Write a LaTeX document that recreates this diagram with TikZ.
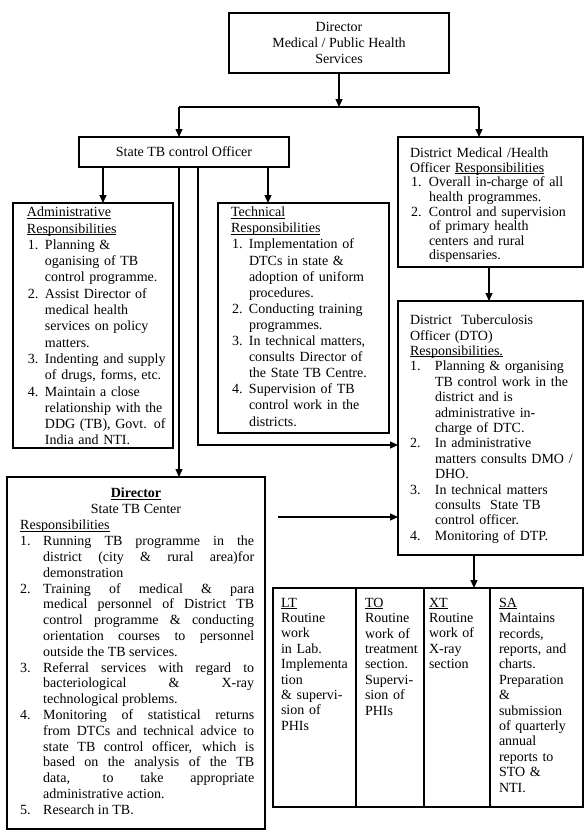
\documentclass[tikz,border=0pt]{standalone}
\usepackage{fontspec}
\setmainfont{Liberation Serif}
\usetikzlibrary{arrows.meta}
\newcommand\myul[1]{\setbox0\hbox{#1}\rlap{\rule[-1.6pt]{\wd0}{0.7pt}}\box0}
\newcommand\li[3]{\par\hangindent=#2\hangafter=1\noindent\hbox to #2{\hspace*{#1}#3\hfil}\ignorespaces}
\tikzset{
  bx/.style={draw, line width=1.2pt, inner sep=0pt, outer sep=0pt, anchor=north west},
  tx/.style={anchor=north west, inner sep=0pt, outer sep=0pt, text width=#1, align=left},
  fs/.style={font=\fontsize{14}{#1}\selectfont},
  arr/.style={line width=1.2pt, -{Triangle[length=8pt,width=7pt]}},
  ln/.style={line width=1.2pt},
}
\begin{document}
\begin{tikzpicture}[x=1pt,y=-1pt]
\useasboundingbox (0,0) rectangle (588,836);
% boxes
\node[bx, minimum width=220pt, minimum height=60pt] (top) at (229,13) {};
\node[bx, minimum width=210pt, minimum height=30pt] (stb) at (79,137) {};
\node[bx, minimum width=185pt, minimum height=130pt] (dmo) at (398,137) {};
\node[bx, minimum width=160pt, minimum height=245pt] (adm) at (13,203) {};
\node[bx, minimum width=171pt, minimum height=230pt] (tec) at (218,203) {};
\node[bx, minimum width=185pt, minimum height=254pt] (dto) at (398,301) {};
\node[bx, minimum width=258pt, minimum height=352pt] (dir) at (7,477) {};
\node[bx, minimum width=83pt, minimum height=219pt] (lt) at (273,588) {};
\node[bx, minimum width=68pt, minimum height=219pt] (to) at (356,588) {};
\node[bx, minimum width=66pt, minimum height=219pt] (xt) at (424,588) {};
\node[bx, minimum width=93pt, minimum height=219pt] (sa) at (490,588) {};
% texts
\node[fs=16.3, align=center, inner sep=0pt] (topT) at (top.center) {Director\\Medical / Public Health\\Services};
\node[fs=16, inner sep=0pt] (stbT) at (stb.center) {State TB control Officer};
\node[tx=200pt, fs=16.3] (admT) at (27,207) {\noindent\myul{Administrative}\newline \myul{Responsibilities}
\li{1pt}{18pt}{1.}Planning \&\newline oganising of TB\newline control programme.
\li{1pt}{18pt}{2.}Assist Director of\newline medical health\newline services on policy\newline matters.
\li{1pt}{18pt}{3.}Indenting and supply\newline of drugs, forms, etc.
\li{1pt}{18pt}{4.}Maintain a close\newline relationship with the\newline DDG (TB), Govt. of\newline India and NTI.\par};
\node[tx=200pt, fs=16.1] (tecT) at (231,207) {\noindent\myul{Technical}\newline \myul{Responsibilities}
\li{1pt}{18pt}{1.}Implementation of\newline DTCs in state \&\newline adoption of uniform\newline procedures.
\li{1pt}{18pt}{2.}Conducting training\newline programmes.
\li{1pt}{18pt}{3.}In technical matters,\newline consults Director of\newline the State TB Centre.
\li{1pt}{18pt}{4.}Supervision of TB\newline control work in the\newline districts.\par};
\node[tx=200pt, fs=14.6] (dmoT) at (410,148) {\noindent District Medical /Health\newline Officer \myul{Responsibilities}
\li{1pt}{19pt}{1.}Overall in-charge of all\newline health programmes.
\li{1pt}{19pt}{2.}Control and supervision\newline of primary health\newline centers and rural\newline dispensaries.\par};
\node[tx=200pt, fs=15.4] (dtoT) at (410,315) {\noindent District\ \ Tuberculosis\newline Officer (DTO)\newline \myul{Responsibilities.}
\li{0pt}{25pt}{1.}Planning \& organising\newline TB control work in the\newline district and is\newline administrative in-\newline charge of DTC.
\li{0pt}{25pt}{2.}In administrative\newline matters consults DMO /\newline DHO.
\li{0pt}{25pt}{3.}In technical matters\newline consults\ \ State TB\newline control officer.
\li{0pt}{25pt}{4.}Monitoring of DTP.\par};
\node[fs=15.8, align=center, inner sep=0pt, anchor=north] (dirH) at (136,488) {\myul{\textbf{Director}}\\State TB Center};
\node[anchor=north west, inner sep=0pt, text width=234pt, align=justify, fs=15.8] (dirT) at (20,520) {\tolerance=10000\noindent\myul{Responsibilities}
\li{0pt}{23pt}{1.}Running TB programme in the\linebreak district (city \& rural area)for\linebreak demonstration
\li{0pt}{23pt}{2.}Training of medical \& para\linebreak medical personnel of District TB\linebreak control programme \& conducting\linebreak orientation courses to personnel\linebreak outside the TB services.
\li{0pt}{23pt}{3.}Referral services with regard to\linebreak bacteriological \& X-ray\linebreak technological problems.
\li{0pt}{23pt}{4.}Monitoring of statistical returns\linebreak from DTCs and technical advice to\linebreak state TB control officer, which is\linebreak based on the analysis of the TB\linebreak data, to take appropriate\linebreak administrative action.
\li{0pt}{23pt}{5.}Research in TB.\par};
\node[tx=80pt, fs=15.4] (ltT) at (281,598) {\noindent\myul{LT}\newline Routine\newline work\newline in Lab.\newline Implementa\newline tion\newline \& supervi-\newline sion of\newline PHIs\par};
\node[tx=80pt, fs=15.4] (toT) at (365,598) {\noindent\myul{TO}\newline Routine\newline work of\newline treatment\newline section.\newline Supervi-\newline sion of\newline PHIs\par};
\node[tx=80pt, fs=15.4] (xtT) at (429,598) {\noindent\myul{XT}\newline Routine\newline work of\newline X-ray\newline section\par};
\node[tx=100pt, fs=15.4] (saT) at (499,598) {\noindent\myul{SA}\newline Maintains\newline records,\newline reports, and\newline charts.\newline Preparation\newline \&\newline submission\newline of quarterly\newline annual\newline reports to\newline STO \&\newline NTI.\par};
% connector coordinates
\coordinate (j) at (339,107);
\coordinate (jl) at (179,107);
\coordinate (jr) at (479,107);
\coordinate (ax) at (103,0);
\coordinate (tx) at (268,0);
\coordinate (cx) at (179,0);
\coordinate (dx) at (198,445);
\coordinate (ex) at (489,0);
\coordinate (fx) at (474,0);
\coordinate (gx) at (278,517);
% connectors
\draw[arr] (top.south) -- (j);
\draw[ln] (jl) -- (jr);
\draw[arr] (jl) -- (stb.north -| jl);
\draw[arr] (jr) -- (dmo.north -| jr);
\draw[arr] (stb.south -| ax) -- (adm.north -| ax);
\draw[arr] (stb.south -| tx) -- (tec.north -| tx);
\draw[arr] (stb.south -| cx) -- (dir.north -| cx);
\draw[arr] (stb.south -| dx) -- (dx) -- (dto.west |- dx);
\draw[arr] (dmo.south -| ex) -- (dto.north -| ex);
\draw[arr] (dto.south -| fx) -- (xt.north -| fx);
\draw[arr] (gx) -- (dto.west |- gx);
\end{tikzpicture}
\end{document}
